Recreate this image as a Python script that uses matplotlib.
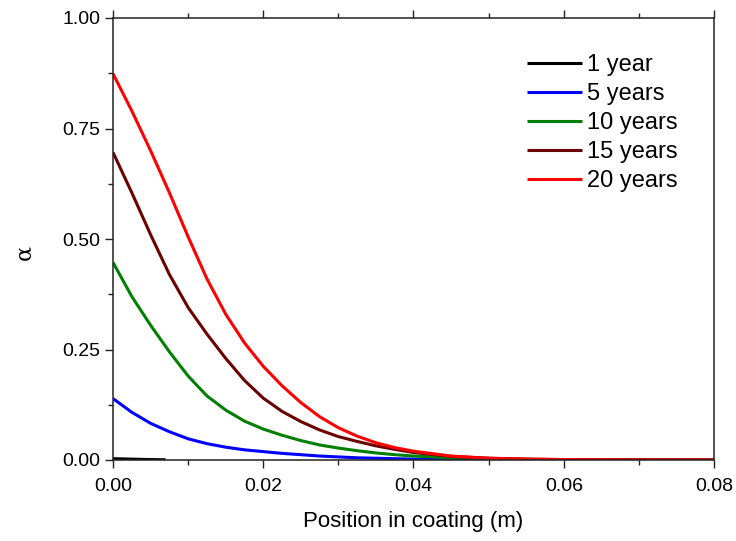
import matplotlib
matplotlib.use("Agg")
import matplotlib.pyplot as plt
from matplotlib.ticker import MultipleLocator, FormatStrFormatter

plt.rcParams['font.family'] = ['Liberation Sans', 'DejaVu Sans']

# Data
x_main = [0.0, 0.0025, 0.005, 0.0075, 0.01, 0.0125, 0.015, 0.0175, 0.02, 0.0225,
          0.025, 0.0275, 0.03, 0.0325, 0.035, 0.0375, 0.04, 0.045, 0.05, 0.055,
          0.06, 0.07, 0.08]
alpha_20 = [0.874, 0.79, 0.70, 0.605, 0.505, 0.41, 0.33, 0.265, 0.212, 0.168,
            0.13, 0.098, 0.073, 0.054, 0.039, 0.028, 0.020, 0.009, 0.004, 0.002,
            0.001, 0.0003, 0.0]
alpha_15 = [0.696, 0.605, 0.51, 0.42, 0.345, 0.285, 0.23, 0.18, 0.14, 0.11,
            0.087, 0.068, 0.053, 0.042, 0.032, 0.024, 0.017, 0.008, 0.004, 0.002,
            0.001, 0.0002, 0.0]
alpha_10 = [0.447, 0.37, 0.305, 0.245, 0.19, 0.145, 0.113, 0.088, 0.07, 0.056,
            0.044, 0.034, 0.027, 0.021, 0.016, 0.012, 0.009, 0.005, 0.0025, 0.0012,
            0.0006, 0.0001, 0.0]
alpha_5 = [0.139, 0.108, 0.083, 0.064, 0.048, 0.037, 0.029, 0.023, 0.019, 0.015,
           0.012, 0.009, 0.007, 0.005, 0.004, 0.003, 0.002, 0.001, 0.0005, 0.0002,
           0.0001, 0.0, 0.0]
x_1 = [0.0, 0.0025, 0.005, 0.007]
alpha_1 = [0.003, 0.002, 0.001, 0.0005]

labels = ["1 year", "5 years", "10 years", "15 years", "20 years"]
colors = ["#000000", "#0000ff", "#008000", "#6b0000", "#ff0000"]

fig = plt.figure(figsize=(7.36, 5.41), dpi=100)
ax = fig.add_axes([113/736, 1-460/541, (714-113)/736, (460-18)/541])

series = [(x_1, alpha_1), (x_main, alpha_5), (x_main, alpha_10),
          (x_main, alpha_15), (x_main, alpha_20)]
for (xs, ys), lab, c in zip(series, labels, colors):
    ax.plot(xs, ys, color=c, lw=2.2, label=lab, solid_capstyle='butt',
            solid_joinstyle='round')

ax.set_xlim(0, 0.08)
ax.set_ylim(0, 1.0)
ax.xaxis.set_major_locator(MultipleLocator(0.02))
ax.xaxis.set_minor_locator(MultipleLocator(0.01))
ax.yaxis.set_major_locator(MultipleLocator(0.25))
ax.yaxis.set_minor_locator(MultipleLocator(0.125))
ax.xaxis.set_major_formatter(FormatStrFormatter('%.2f'))
ax.yaxis.set_major_formatter(FormatStrFormatter('%.2f'))

for s in ax.spines.values():
    s.set_linewidth(1.1)
    s.set_color('#222222')

ax.tick_params(which='both', direction='out', top=True, right=False,
               labeltop=False, width=1.0, color='#222222')
ax.tick_params(which='major', length=6, labelsize=14)
ax.tick_params(which='minor', length=3.5)
ax.tick_params(axis='x', which='major', pad=7)
ax.tick_params(axis='y', which='major', pad=3)

ax.set_xlabel("Position in coating (m)", fontsize=16)
ax.xaxis.set_label_coords(0.5, -(522 - 460) / 442, transform=ax.transAxes)
ax.xaxis.label.set_va('center')
ax.set_ylabel("α", fontsize=16, family=['DejaVu Serif'])
ax.yaxis.set_label_coords(-(113 - 24) / 601, (460 - 253) / 442)
ax.yaxis.label.set_va('center')

leg = ax.legend(loc='upper left', bbox_to_anchor=(527/736, 1-54/541),
                bbox_transform=fig.transFigure, frameon=False, fontsize=17,
                handlelength=2.33, handletextpad=0.2, labelspacing=0.3,
                borderpad=0, borderaxespad=0)

fig.savefig("out.png", dpi=100)
